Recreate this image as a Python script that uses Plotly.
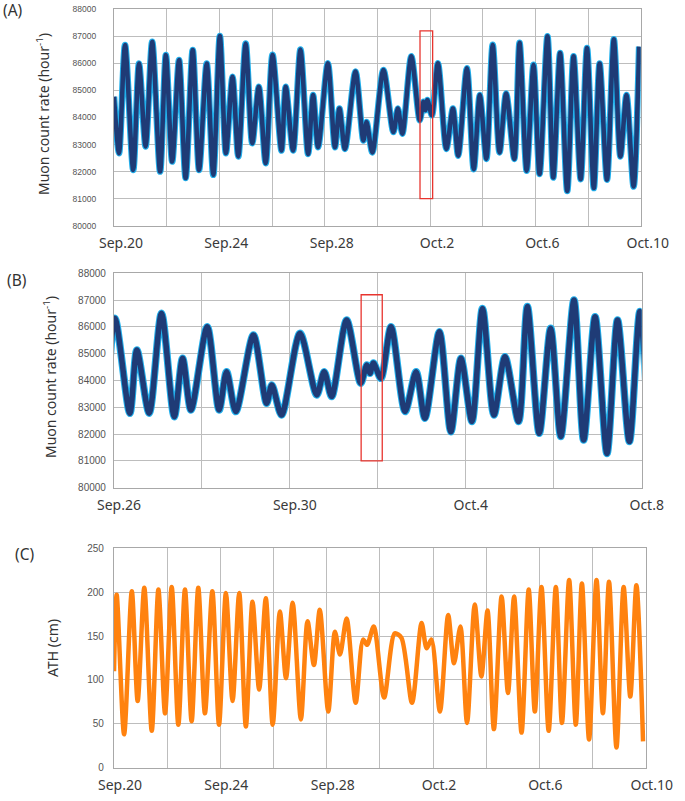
import pandas as pd
import plotly.graph_objects as go

# ---------------- data ----------------
# times are days after Sep.20 00:00 ; values at the turning points of the record
muon_days = [0.0, 0.19, 0.42, 0.73, 0.95, 1.2, 1.45, 1.75, 1.97, 2.21, 2.47, 2.72, 2.99, 3.23,
             3.52, 3.77, 4.02, 4.25, 4.5, 4.72, 5.0, 5.25, 5.5, 5.76,
             6.02, 6.36, 6.52, 6.8, 7.08, 7.37, 7.56, 7.75, 8.12, 8.39, 8.56, 8.77, 9.17, 9.47,
             9.59, 9.81, 10.23, 10.61, 10.78, 10.95, 11.29, 11.61, 11.75, 11.82, 11.9, 12.07,
             12.3, 12.62, 12.87, 13.07, 13.4, 13.66, 13.89, 14.14, 14.38, 14.64, 14.89, 15.2,
             15.4, 15.67, 15.93, 16.16, 16.46, 16.68, 16.94, 17.21, 17.45, 17.72, 17.96,
             18.22, 18.44, 18.72, 18.98, 19.23, 19.46, 19.73, 19.94]
muon_rate = [84770, 82680, 86680, 82060, 86000, 82930, 86800, 82000, 86310, 82370, 86130, 81760, 86500, 82060,
             86000, 81880, 87015, 82680, 85510, 82560, 86740, 83050, 85140, 82310,
             86320, 82780, 85140, 82780, 86510, 82650, 84830, 82900, 86010, 82900, 84330, 82840, 85700, 83150,
             83830, 82710, 85760, 83460, 84330, 83400, 86260, 83900, 84580, 84270, 84650, 84080,
             86010, 82840, 84330, 82590, 85820, 82090, 84830, 82470, 86690, 82710, 84890, 82470,
             86760, 82030, 85950, 81910, 87000, 81780, 86380, 81280, 86260, 81720, 86570,
             81390, 86000, 81700, 86890, 82560, 84830, 81450, 86620]

ath_days = [0.0, 0.10, 0.38, 0.67, 0.89, 1.14, 1.42, 1.67, 1.92, 2.17, 2.42, 2.67, 2.92, 3.17, 3.42,
            3.70, 3.95, 4.21, 4.46, 4.71, 4.96, 5.21, 5.46, 5.71, 5.97, 6.24, 6.47, 6.72, 7.03, 7.28,
            7.52, 7.74, 8.06, 8.31, 8.5, 8.75, 9.09, 9.37, 9.52, 9.77, 10.16, 10.56, 10.81, 11.21,
            11.57, 11.76, 11.94, 12.26, 12.57, 12.79, 13.03, 13.28, 13.57, 13.82, 14.05, 14.29,
            14.58, 14.82, 15.05, 15.33, 15.6, 15.83, 16.08, 16.35, 16.62, 16.85, 17.12, 17.37,
            17.6, 17.87, 18.15, 18.39, 18.62, 18.9, 19.17, 19.42, 19.65, 19.9]
ath_cm = [110, 197, 38, 201, 76, 205, 42, 203, 62, 206, 49, 203, 53, 205, 62,
          201, 49, 199, 76, 199, 47, 189, 89, 193, 49, 178, 102, 188, 55, 167,
          117, 180, 64, 155, 129, 170, 74, 146, 140, 161, 80, 153, 148, 74,
          165, 136, 146, 64, 174, 119, 161, 51, 186, 104, 179, 44,
          195, 85, 195, 40, 203, 64, 206, 42, 206, 51, 214, 49,
          210, 32, 214, 62, 212, 23, 206, 81, 208, 30]

# highlighted interval (red box), days after Sep.20, and its count-rate extent
box_days = [11.62, 12.1]
box_rate = [81000, 87200]

ticks_ac = ["Sep.20", "Sep.24", "Sep.28", "Oct.2", "Oct.6", "Oct.10"]
ticks_b = ["Sep.26", "Sep.30", "Oct.4", "Oct.8"]

# ---------------- build ----------------
base = pd.Timestamp("2019-09-20")
def to_time(d):
    return base + pd.to_timedelta(pd.Series(d, dtype=float), unit="D")

mt = to_time(muon_days)
at = to_time(ath_days)
bx = to_time(box_days)

NAVY = "#1F3B76"
LIGHT = "#22B0EC"
ORANGE = "#FF820F"
GRID = "#BDBDBD"

fig = go.Figure()
for xa, ya, wl, wn in [("x", "y", 6.5, 4.5), ("x2", "y2", 7.5, 5.5)]:
    fig.add_trace(go.Scatter(x=mt, y=muon_rate, mode="lines", xaxis=xa, yaxis=ya,
                             line=dict(color=LIGHT, width=wl, shape="spline", smoothing=0.8),
                             showlegend=False, hoverinfo="skip"))
    fig.add_trace(go.Scatter(x=mt, y=muon_rate, mode="lines", xaxis=xa, yaxis=ya,
                             line=dict(color=NAVY, width=wn, shape="spline", smoothing=0.8),
                             showlegend=False))
fig.add_trace(go.Scatter(x=at, y=ath_cm, mode="lines", xaxis="x3", yaxis="y3",
                         line=dict(color=ORANGE, width=4.5, shape="spline", smoothing=0.8),
                         showlegend=False))

for xr, yr in [("x", "y"), ("x2", "y2")]:
    fig.add_shape(type="rect", xref=xr, yref=yr, x0=bx[0], x1=bx[1], y0=box_rate[0], y1=box_rate[1],
                  line=dict(color="#E8342E", width=1.3), fillcolor="rgba(0,0,0,0)", layer="above")

W, H = 685, 801
def px(x):
    return x / W
def py(y):
    return 1 - y / H

DAY_MS = 86400000
tick_font_x = dict(family="Noto Sans", size=14, color="#3a3a3a")
common_x = dict(showgrid=True, gridcolor=GRID, gridwidth=1.2, showline=True, linecolor="#A8A8A8",
                linewidth=1.2, mirror=True, zeroline=False, ticks="", tickfont=tick_font_x,
                ticklabelstandoff=4, automargin=False, tickmode="array",
                minor=dict(dtick=2 * DAY_MS, showgrid=True, gridcolor=GRID, gridwidth=1.2, ticks=""))
common_y = dict(showgrid=True, gridcolor=GRID, gridwidth=1.2, showline=True, linecolor="#A8A8A8",
                linewidth=1.2, mirror=True, zeroline=False, ticks="", automargin=False, tickformat="d")

vals_ac = [base + pd.Timedelta(days=4 * i) for i in range(6)]
vals_b = [base + pd.Timedelta(days=6 + 4 * i) for i in range(4)]

fig.update_layout(
    width=W, height=H, margin=dict(l=0, r=0, t=0, b=0),
    paper_bgcolor="white", plot_bgcolor="white",
    xaxis=dict(common_x, domain=[px(114), px(640.7)], anchor="y", ticklabelshift=7,
               range=[base, base + pd.Timedelta(days=20)], tickvals=vals_ac, ticktext=ticks_ac),
    yaxis=dict(common_y, domain=[py(225.7), py(9.3)], anchor="x", range=[80000, 88000], dtick=1000,
               tickfont=dict(family="Liberation Sans", size=8.5, color="#555555"), ticklabelstandoff=15),
    xaxis2=dict(common_x, domain=[px(114), px(641.7)], anchor="y2", ticklabelshift=5,
                range=[base + pd.Timedelta(days=6), base + pd.Timedelta(days=18)],
                tickvals=vals_b, ticktext=ticks_b),
    yaxis2=dict(common_y, domain=[py(487.7), py(273.3)], anchor="x2", range=[80000, 88000], dtick=1000,
                tickfont=dict(family="Liberation Sans", size=10, color="#555555"), ticklabelstandoff=5),
    xaxis3=dict(common_x, domain=[px(114), px(645.7)], anchor="y3", ticklabelshift=6,
                range=[base, base + pd.Timedelta(days=20)], tickvals=vals_ac, ticktext=ticks_ac),
    yaxis3=dict(common_y, domain=[py(767.7), py(548.3)], anchor="x3", range=[0, 250], dtick=50,
                tickfont=dict(family="Liberation Sans", size=10, color="#555555"), ticklabelstandoff=7),
)

lab_font = dict(family="Noto Sans", size=15.5, color="#333333")
title_font = dict(family="Noto Sans", size=14, color="#333333")
anns = [
    dict(text="(A)", x=px(13), y=py(10)),
    dict(text="(B)", x=px(17), y=py(280)),
    dict(text="(C)", x=px(25), y=py(554)),
]
for a in anns:
    fig.add_annotation(text=a["text"], x=a["x"], y=a["y"], xref="paper", yref="paper",
                       showarrow=False, font=lab_font, xanchor="center", yanchor="middle")
for text, x, y in [("Muon count rate (hour<sup>-1</sup>)", 43, 114),
                   ("Muon count rate (hour<sup>-1</sup>)", 50, 377),
                   ("ATH (cm)", 52, 648)]:
    fig.add_annotation(text=text, x=px(x), y=py(y), xref="paper", yref="paper", textangle=-90,
                       showarrow=False, font=title_font, xanchor="center", yanchor="middle")

# remove the browser's default 8px page margin so the figure sits at the window origin
fig.write_html("out.html", config={"displayModeBar": False},
               post_script="document.body.style.margin='0';")
